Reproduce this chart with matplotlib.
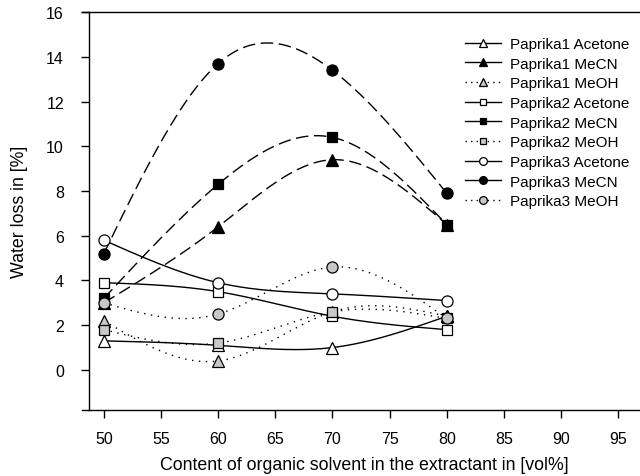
import numpy as np
import matplotlib
matplotlib.use("Agg")
import matplotlib.pyplot as plt

plt.rcParams['font.family'] = ['Liberation Sans', 'DejaVu Sans']

# solvent content [vol%]
x = [50, 60, 70, 80]

# water loss [%]
p1_acetone = [1.3, 1.1, 1.0, 2.4]
p1_mecn = [3.0, 6.4, 9.4, 6.5]
p1_meoh = [2.2, 0.4, 2.6, 2.4]
p2_acetone = [3.9, 3.5, 2.4, 1.8]
p2_mecn = [3.2, 8.3, 10.4, 6.5]
p2_meoh = [1.8, 1.2, 2.6, 2.3]
p3_acetone = [5.8, 3.9, 3.4, 3.1]
p3_mecn = [5.2, 13.7, 13.4, 7.9]
p3_meoh = [3.0, 2.5, 4.6, 2.3]

labels = ['Paprika1 Acetone', 'Paprika1 MeCN', 'Paprika1 MeOH',
          'Paprika2 Acetone', 'Paprika2 MeCN', 'Paprika2 MeOH',
          'Paprika3 Acetone', 'Paprika3 MeCN', 'Paprika3 MeOH']
series = [p1_acetone, p1_mecn, p1_meoh, p2_acetone, p2_mecn, p2_meoh,
          p3_acetone, p3_mecn, p3_meoh]


def natural_spline(xs, ys, n=200):
    # smooth curve through the measured points (natural cubic spline)
    xs = np.asarray(xs, float)
    ys = np.asarray(ys, float)
    k = len(xs)
    h = np.diff(xs)
    A = np.zeros((k, k))
    b = np.zeros(k)
    A[0, 0] = A[-1, -1] = 1
    for i in range(1, k - 1):
        A[i, i - 1] = h[i - 1]
        A[i, i] = 2 * (h[i - 1] + h[i])
        A[i, i + 1] = h[i]
        b[i] = 6 * ((ys[i + 1] - ys[i]) / h[i] - (ys[i] - ys[i - 1]) / h[i - 1])
    M = np.linalg.solve(A, b)
    xx = np.linspace(xs[0], xs[-1], n)
    yy = np.empty_like(xx)
    for j, xv in enumerate(xx):
        i = min(np.searchsorted(xs, xv, side='right') - 1, k - 2)
        t1 = xs[i + 1] - xv
        t0 = xv - xs[i]
        yy[j] = (M[i] * t1 ** 3 + M[i + 1] * t0 ** 3) / (6 * h[i]) \
            + (ys[i] / h[i] - M[i] * h[i] / 6) * t1 \
            + (ys[i + 1] / h[i] - M[i + 1] * h[i] / 6) * t0
    return xx, yy


markers = ['^', '^', '^', 's', 's', 's', 'o', 'o', 'o']
faces = ['white', 'black', '#c8c8c8'] * 3
styles = ['-', (0, (9, 4)), (0, (1, 4))] * 3
legend_styles = ['-', '-', (0, (1, 3))] * 3
msizes = [8, 8, 8, 7, 7, 7, 8, 8, 8]

fig = plt.figure(figsize=(6.4, 4.77), dpi=100)
ax = fig.add_axes([0.139, 0.138, 0.861, 0.8345])

for ys, lab, m, fc, ls, lls, ms in zip(series, labels, markers, faces, styles,
                                        legend_styles, msizes):
    xx, yy = natural_spline(x, ys)
    ax.plot(xx, yy, color='black', lw=1, linestyle=ls, zorder=2)
    ax.plot(x, ys, linestyle='none', marker=m, markersize=ms,
            markerfacecolor=fc, markeredgecolor='black', markeredgewidth=0.9,
            zorder=3)
    # legend proxy
    ax.plot([], [], color='black', lw=1, linestyle=lls, marker=m, markersize=ms,
            markerfacecolor=fc, markeredgecolor='black', markeredgewidth=0.9,
            label=lab)

ax.set_xlim(48.7, 96.9)
ax.set_ylim(-1.8, 16)
ax.set_xticks(np.arange(50, 100, 5))
ax.set_yticks(np.arange(0, 18, 2))
ax.spines['right'].set_visible(False)
for s in ['left', 'bottom', 'top']:
    ax.spines[s].set_linewidth(1)
ax.tick_params(direction='out', length=6, width=1, labelsize=11.5)
ax.tick_params(axis='y', pad=12)
ax.tick_params(axis='x', pad=9)

# small overhang of bottom and top lines past the left axis
for yv in (0, 1):
    ax.plot([-0.013, 0], [yv, yv], transform=ax.transAxes, color='black',
            lw=1, clip_on=False)

ax.set_xlabel('Content of organic solvent in the extractant in [vol%]',
              fontsize=12.8, labelpad=7)
ax.set_ylabel('Water loss in [%]', fontsize=12.8, labelpad=13)

ax.legend(loc='upper left', bbox_to_anchor=(0.672, 0.953), frameon=False,
          fontsize=11, handlelength=2.3, handletextpad=0.6, labelspacing=0.37,
          borderaxespad=0, markerscale=0.7)

fig.savefig('out.png', dpi=100)
